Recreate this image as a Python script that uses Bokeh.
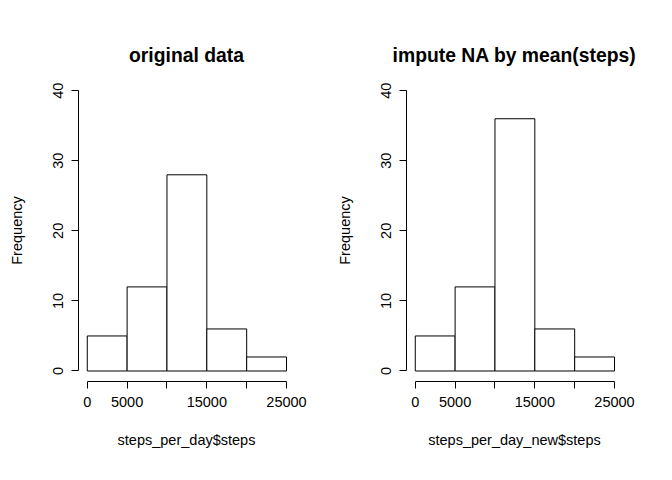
from bokeh.embed import file_html
from bokeh.resources import INLINE
from bokeh.plotting import figure
from bokeh.layouts import row
from bokeh.models import FixedTicker, Range1d

edges = [0, 5000, 10000, 15000, 20000, 25000]
counts_orig = [5, 12, 28, 6, 2]
counts_new = [5, 12, 36, 6, 2]
titles = ["original data", "impute NA by mean(steps)"]
xlabels = ["steps_per_day$steps", "steps_per_day_new$steps"]
FONT = "Liberation Sans"


def hist(counts, title, xlabel):
    p = figure(width=328, height=464, output_backend="svg", toolbar_location=None,
               x_range=Range1d(-1100, 26000), y_range=Range1d(-1.5, 41.6),
               min_border_left=78, min_border_right=34, min_border_top=79, min_border_bottom=83,
               title=title)
    p.title.align = "center"
    p.title.text_font = FONT
    p.title.text_font_size = "14.5pt"
    p.title.text_font_style = "bold"
    p.title.text_color = "black"
    p.title.offset = 0
    p.title.standoff = 28
    p.outline_line_color = None
    p.grid.visible = False

    p.quad(left=edges[:-1], right=edges[1:], bottom=0, top=counts,
           fill_color="white", line_color="black", line_width=1)

    for ax in (p.xaxis[0], p.yaxis[0]):
        ax.axis_line_color = "black"
        ax.major_tick_out = 7
        ax.major_tick_in = 0
        ax.minor_tick_line_color = None
        ax.major_label_text_font = FONT
        ax.major_label_text_font_size = "14.5px"
        ax.major_label_text_color = "black"
        ax.axis_label_text_font = FONT
        ax.axis_label_text_font_size = "14.5px"
        ax.axis_label_text_font_style = "normal"
        ax.axis_label_text_color = "black"
    p.xaxis.ticker = FixedTicker(ticks=edges)
    p.xaxis.bounds = (0, 25000)
    p.xaxis.major_label_overrides = {10000: "", 20000: ""}
    p.xaxis.major_label_standoff = 8
    p.xaxis.axis_label = xlabel
    p.xaxis.axis_label_standoff = 22
    p.yaxis.ticker = FixedTicker(ticks=[0, 10, 20, 30, 40])
    p.yaxis.bounds = (0, 40)
    p.yaxis.major_label_orientation = "vertical"
    p.yaxis.major_label_standoff = 8
    p.yaxis.axis_label = "Frequency"
    p.yaxis.axis_label_standoff = 26
    return p


p1 = hist(counts_orig, titles[0], xlabels[0])
p2 = hist(counts_new, titles[1], xlabels[1])
p = row(p1, p2)
open("out.html", "w").write(file_html(p, INLINE))
